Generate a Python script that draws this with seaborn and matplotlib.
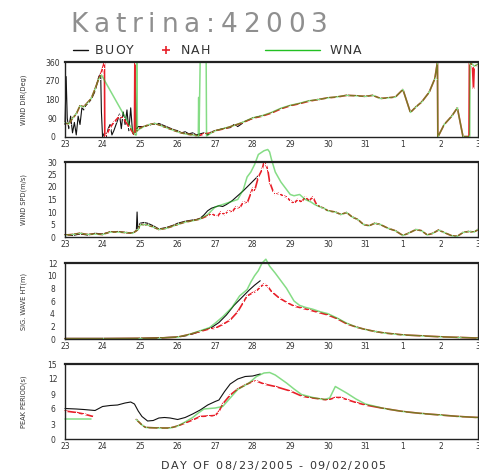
import numpy as np
import pandas as pd
import matplotlib
matplotlib.use("Agg")
import matplotlib.pyplot as plt
from matplotlib.lines import Line2D
import seaborn as sns

# (day, value); day 23 = 08/23, 32 = 09/01 ; None = gap
dir_buoy = [(23.00, 60), (23.03, 290), (23.06, 90), (23.10, 40), (23.15, 100), (23.20, 20), (23.25, 70),
            (23.30, 10), (23.35, 100), (23.40, 60), (23.45, 140), (23.50, 130), (23.55, 150), (23.60, 160),
            (23.70, 180), (23.80, 220), (23.90, 290), (23.95, 305), (23.97, 120), (24.00, 0), (24.05, 20),
            (24.10, 0), (24.15, 40), (24.20, 60), (24.25, 10), (24.30, 30), (24.40, 80), (24.45, 110),
            (24.50, 40), (24.55, 120), (24.60, 60), (24.65, 130), (24.70, 30), (24.75, 140), (24.80, 20),
            (24.85, 5), (24.87, 340), (24.89, 30), (24.95, 50), (25.10, 50), (25.30, 60), (25.50, 65),
            (25.70, 50), (25.90, 35), (26.00, 30), (26.10, 20), (26.20, 25), (26.30, 15), (26.40, 20),
            (26.50, 10), (26.60, 15), (26.70, 20), (26.80, 10), (26.90, 25), (27.00, 30), (27.20, 40),
            (27.40, 45), (27.50, 60), (27.60, 50), (27.80, 75), (28.00, 90), (28.20, 100)]
dir_nah = [(23.0, 70), (23.1, 60), (23.2, 90), (23.3, 110), (23.4, 150), (23.5, 145), (23.6, 165),
           (23.7, 185), (23.8, 230), (23.9, 280), (23.95, 300), (24.0, 330), (24.05, 360), (24.06, 0),
           (24.12, 15), (24.2, 45), (24.3, 70), (24.45, 100), (24.55, 90), (24.7, 50), (24.85, 10),
           (24.86, 360), (24.88, 20), (24.95, 40), (25.1, 50), (25.25, 60), (25.4, 65), (25.55, 55),
           (25.7, 45), (25.85, 35), (26.0, 25), (26.2, 15), (26.4, 10), (26.55, 5), (26.7, 15), (26.9, 20),
           (27.0, 30), (27.25, 40), (27.5, 55), (27.75, 70), (28.0, 90), (28.25, 100), (28.5, 115),
           (28.75, 135), (29.0, 150), (29.25, 160), (29.5, 172), (29.75, 180), (30.0, 188), (30.25, 192),
           (30.5, 200), (30.75, 198), (31.0, 195), (31.2, 200), (31.4, 185), (31.6, 188), (31.8, 192),
           (32.0, 228), (32.2, 118), (32.35, 145), (32.5, 168), (32.7, 215), (32.85, 280), (32.92, 360),
           (32.93, 0), (33.1, 60), (33.3, 100), (33.45, 140), (33.6, 2), (33.76, 2), (33.77, 360),
           (33.85, 345), (33.88, 230), (33.9, 340), (34.0, 345)]
dir_wna = [(23.0, 70), (23.1, 62), (23.2, 90), (23.3, 112), (23.4, 150), (23.5, 145), (23.6, 165),
           (23.7, 185), (23.8, 230), (23.9, 280), (23.97, 298), (24.87, 10), (24.90, 10), (24.91, 360),
           (24.93, 30), (25.0, 40), (25.1, 50), (25.25, 60), (25.4, 65), (25.55, 55), (25.7, 45),
           (25.85, 35), (26.0, 25), (26.2, 15), (26.4, 10), (26.55, 5), (26.56, 190), (26.57, 5),
           (26.6, 360), (26.76, 360), (26.77, 5), (26.9, 20), (27.0, 30), (27.25, 42), (27.5, 55),
           (27.75, 72), (28.0, 92), (28.25, 102), (28.5, 118), (28.75, 138), (29.0, 152), (29.25, 162),
           (29.5, 174), (29.75, 180), (30.0, 188), (30.25, 193), (30.5, 200), (30.75, 198), (31.0, 195),
           (31.2, 200), (31.4, 185), (31.6, 188), (31.8, 192), (32.0, 228), (32.2, 118), (32.35, 145),
           (32.5, 168), (32.7, 215), (32.85, 280), (32.92, 360), (32.93, 0), (33.1, 60), (33.3, 100),
           (33.45, 140), (33.6, 2), (33.78, 2), (33.79, 360), (33.9, 340), (34.0, 350)]

spd_buoy = [(23.0, 1.0), (23.2, 0.6), (23.4, 1.2), (23.6, 0.8), (23.8, 1.5), (24.0, 1.2), (24.2, 2.0),
            (24.4, 2.2), (24.6, 1.8), (24.8, 1.5), (24.9, 2.5), (24.92, 10.0), (24.94, 3.0), (25.0, 5.5),
            (25.1, 5.8), (25.2, 5.5), (25.35, 4.5), (25.5, 3.2), (25.7, 3.8), (25.9, 4.8), (26.0, 5.5),
            (26.2, 6.3), (26.4, 6.8), (26.5, 7.0), (26.6, 7.5), (26.7, 8.8), (26.8, 10.5), (26.9, 11.5),
            (27.0, 12.0), (27.1, 12.5), (27.2, 12.2), (27.3, 13.0), (27.45, 14.5), (27.6, 16.5),
            (27.75, 18.5), (27.85, 20.0), (27.95, 21.5), (28.05, 23.0), (28.15, 24.5)]
spd_nah = [(23.0, 0.8), (23.2, 1.0), (23.4, 1.5), (23.6, 1.0), (23.8, 1.2), (24.0, 1.0), (24.2, 2.0),
           (24.4, 2.0), (24.6, 1.8), (24.8, 1.5), (24.95, 3.0), (25.0, 4.8), (25.1, 5.0), (25.2, 4.8),
           (25.35, 4.0), (25.5, 3.0), (25.7, 3.5), (25.9, 4.5), (26.0, 5.0), (26.2, 6.0), (26.4, 6.5),
           (26.6, 7.2), (26.8, 8.5), (26.9, 9.5), (27.0, 8.5), (27.05, 8.0), (27.15, 10.0), (27.25, 9.0),
           (27.35, 10.5), (27.45, 10.0), (27.55, 12.0), (27.65, 11.5), (27.75, 14.0), (27.85, 13.5),
           (27.95, 17.5), (28.0, 19.5), (28.05, 18.5), (28.15, 24.0), (28.25, 27.0), (28.3, 30.0),
           (28.35, 29.0), (28.4, 27.0), (28.45, 22.0), (28.55, 18.0), (28.6, 17.0), (28.7, 17.5),
           (28.8, 16.5), (28.9, 16.0), (29.0, 14.5), (29.1, 13.5), (29.2, 15.0), (29.3, 14.0), (29.4, 16.0),
           (29.5, 14.5), (29.6, 16.0), (29.7, 13.0), (29.8, 12.0), (29.9, 11.5), (30.0, 10.5), (30.2, 10.0),
           (30.35, 9.0), (30.5, 9.8), (30.65, 8.0), (30.8, 7.0), (30.95, 5.0), (31.1, 4.5), (31.25, 5.5),
           (31.4, 5.0), (31.6, 3.5), (31.8, 2.5), (32.0, 0.6), (32.15, 1.5), (32.35, 3.0), (32.5, 2.5),
           (32.65, 0.8), (32.8, 1.5), (32.95, 2.8), (33.1, 1.8), (33.3, 0.5), (33.45, 0.3), (33.6, 1.8),
           (33.75, 2.2), (33.9, 2.0), (34.0, 3.0)]
spd_wna = [(23.0, 0.8), (23.2, 1.0), (23.4, 1.5), (23.6, 1.0), (23.8, 1.2), (24.0, 1.0), (24.2, 2.0),
           (24.4, 2.0), (24.6, 1.8), (24.8, 1.5), (24.95, 3.0), (25.0, 4.8), (25.1, 5.0), (25.2, 4.8),
           (25.35, 4.0), (25.5, 3.0), (25.7, 3.5), (25.9, 4.5), (26.0, 5.0), (26.2, 6.0), (26.4, 6.5),
           (26.6, 7.2), (26.8, 9.0), (27.0, 12.0), (27.2, 13.0), (27.4, 14.0), (27.6, 15.0), (27.75, 19.0),
           (27.85, 24.0), (27.95, 26.0), (28.05, 29.0), (28.15, 33.0), (28.3, 34.5), (28.4, 35.0),
           (28.45, 34.0), (28.5, 31.0), (28.6, 26.0), (28.75, 22.0), (28.9, 19.0), (29.0, 17.0),
           (29.1, 16.5), (29.25, 17.0), (29.4, 15.0), (29.55, 14.0), (29.65, 13.0), (29.8, 12.0),
           (29.9, 11.5), (30.0, 10.5), (30.2, 10.0), (30.35, 9.0), (30.5, 9.8), (30.65, 8.0), (30.8, 7.0),
           (30.95, 5.0), (31.1, 4.5), (31.25, 5.5), (31.4, 5.0), (31.6, 3.5), (31.8, 2.5), (32.0, 0.6),
           (32.15, 1.5), (32.35, 3.0), (32.5, 2.5), (32.65, 0.8), (32.8, 1.5), (32.95, 2.8), (33.1, 1.8),
           (33.3, 0.5), (33.45, 0.3), (33.6, 1.8), (33.75, 2.2), (33.9, 2.0), (34.0, 3.0)]

hs_buoy = [(23.0, 0.1), (24.0, 0.1), (25.0, 0.1), (25.5, 0.2), (26.0, 0.3), (26.3, 0.6), (26.6, 1.2),
           (26.9, 1.8), (27.1, 2.6), (27.3, 3.8), (27.5, 5.3), (27.7, 6.5), (27.9, 7.7), (28.05, 8.5),
           (28.2, 9.2)]
hs_nah = [(23.0, 0.05), (24.0, 0.05), (25.0, 0.1), (25.5, 0.15), (26.0, 0.3), (26.3, 0.7), (26.6, 1.2),
          (26.85, 1.6), (27.0, 1.7), (27.2, 2.3), (27.4, 3.0), (27.6, 4.3), (27.75, 5.8), (27.85, 6.8),
          (28.0, 7.3), (28.1, 7.6), (28.2, 8.2), (28.3, 8.7), (28.4, 8.3), (28.5, 7.5), (28.7, 6.5),
          (28.9, 5.8), (29.1, 5.2), (29.3, 4.9), (29.5, 4.6), (29.75, 4.2), (30.0, 3.8), (30.25, 3.2),
          (30.5, 2.4), (30.75, 1.9), (31.0, 1.5), (31.25, 1.2), (31.5, 0.95), (31.75, 0.8), (32.0, 0.65),
          (32.5, 0.5), (33.0, 0.35), (33.5, 0.25), (34.0, 0.15)]
hs_wna = [(23.0, 0.05), (24.0, 0.05), (25.0, 0.1), (25.5, 0.15), (26.0, 0.3), (26.3, 0.7), (26.6, 1.3),
          (26.85, 1.8), (27.0, 2.5), (27.2, 3.5), (27.45, 5.0), (27.65, 6.8), (27.85, 7.8), (27.95, 9.0),
          (28.05, 10.0), (28.15, 10.8), (28.25, 12.0), (28.35, 12.6), (28.45, 11.5), (28.6, 10.4),
          (28.75, 9.2), (28.9, 8.0), (29.0, 7.0), (29.1, 6.0), (29.25, 5.3), (29.4, 5.0), (29.6, 4.7),
          (29.8, 4.3), (30.0, 4.0), (30.25, 3.3), (30.5, 2.5), (30.75, 1.9), (31.0, 1.5), (31.25, 1.2),
          (31.5, 0.95), (31.75, 0.8), (32.0, 0.65), (32.5, 0.5), (33.0, 0.35), (33.5, 0.25), (34.0, 0.15)]

tp_buoy = [(23.0, 6.1), (23.3, 6.0), (23.5, 5.9), (23.8, 5.7), (24.0, 6.5), (24.2, 6.7), (24.4, 6.8),
           (24.6, 7.2), (24.75, 7.4), (24.85, 7.0), (24.95, 5.6), (25.05, 4.5), (25.2, 3.6), (25.35, 3.7),
           (25.5, 4.2), (25.65, 4.3), (25.8, 4.2), (26.0, 3.9), (26.2, 4.3), (26.4, 5.0), (26.6, 5.8),
           (26.8, 6.8), (27.0, 7.5), (27.1, 7.8), (27.25, 9.5), (27.4, 11.0), (27.6, 12.0), (27.8, 12.5),
           (28.0, 12.6), (28.2, 13.0)]
tp_nah = [(23.0, 5.6), (23.3, 5.3), (23.5, 5.0), (23.75, 4.5), (23.8, None), (24.9, 3.9), (25.05, 2.8),
          (25.15, 2.3), (25.5, 2.2), (25.8, 2.2), (26.0, 2.6), (26.2, 3.2), (26.4, 3.8), (26.6, 4.5),
          (26.8, 4.6), (27.0, 4.7), (27.1, 5.5), (27.2, 7.0), (27.4, 8.8), (27.6, 10.0), (27.8, 10.8),
          (28.0, 11.5), (28.1, 11.6), (28.3, 11.0), (28.6, 10.5), (29.0, 9.6), (29.3, 8.6), (29.5, 8.3),
          (29.8, 8.0), (30.0, 7.8), (30.2, 8.3), (30.35, 8.3), (30.5, 7.9), (30.75, 7.3), (31.0, 6.8),
          (31.5, 6.1), (32.0, 5.5), (32.5, 5.1), (33.0, 4.8), (33.5, 4.5), (34.0, 4.3)]
tp_wna = [(23.0, 4.1), (23.7, 4.1), (23.8, None), (24.9, 3.9), (25.05, 2.8), (25.15, 2.3), (25.5, 2.2),
          (25.8, 2.2), (26.0, 2.6), (26.2, 3.4), (26.4, 4.3), (26.55, 5.2), (26.7, 6.0), (27.0, 6.2),
          (27.2, 6.5), (27.4, 8.2), (27.6, 9.9), (27.9, 11.2), (28.1, 12.5), (28.3, 13.2), (28.45, 13.3),
          (28.6, 12.8), (28.9, 11.2), (29.1, 10.0), (29.3, 8.9), (29.6, 8.3), (29.9, 7.9), (30.05, 8.2),
          (30.2, 10.5), (30.5, 9.2), (30.75, 8.0), (31.0, 7.0), (31.5, 6.1), (32.0, 5.5), (32.5, 5.1),
          (33.0, 4.8), (33.5, 4.5), (34.0, 4.3)]

day_ticks = list(range(23, 35))
day_labels = ['23', '24', '25', '26', '27', '28', '29', '30', '31', '1', '2', '3']

panels = [
    ("WIND DIR(Deg)", dir_buoy, dir_nah, dir_wna, (0, 360), [0, 90, 180, 270, 360]),
    ("WIND SPD(m/s)", spd_buoy, spd_nah, spd_wna, (0, 30), [0, 5, 10, 15, 20, 25, 30]),
    ("SIG. WAVE HT(m)", hs_buoy, hs_nah, hs_wna, (0, 12), [0, 2, 4, 6, 8, 10, 12]),
    ("PEAK PERIOD(s)", tp_buoy, tp_nah, tp_wna, (0, 15), [0, 3, 6, 9, 12, 15]),
]

sns.set_style("white")
plt.rcParams['font.family'] = ['DejaVu Sans']

BLACK = '#111111'
RED = '#e8202a'
GREEN = '#22c022'
TXT = '#333333'
W, H = 479, 473


def draw(ax, pairs, color, **kw):
    df = pd.DataFrame(pairs, columns=['day', 'val'])
    df['val'] = pd.to_numeric(df['val'])
    df['seg'] = df['val'].isna().cumsum()
    df = df.dropna()
    sns.lineplot(data=df, x='day', y='val', units='seg', estimator=None, sort=False,
                 color=color, ax=ax, clip_on=False, **kw)


def spaced_text(fig, x_px, y_px, s, track, ha='left', **kw):
    # text with extra letter spacing (the original uses a wide plotter font)
    r = fig.canvas.get_renderer()
    size = kw.get('fontsize', 10)
    widths = []
    for ch in s:
        if ch == ' ':
            widths.append(0.32 * size * 100 / 72)
            continue
        t = fig.text(0, 0, ch, **kw)
        widths.append(t.get_window_extent(r).width)
        t.remove()
    total = sum(widths) + track * (len(s) - 1)
    x = x_px - total / 2 if ha == 'center' else x_px
    for ch, w in zip(s, widths):
        if ch != ' ':
            fig.text(x / W, 1 - y_px / H, ch, ha='left', va='center', **kw)
        x += w + track


fig = plt.figure(figsize=(4.79, 4.73), dpi=100)

# axes boxes in pixels: left, right, top, bottom
boxes = [(65, 478, 62, 137), (65, 478, 162, 237), (65, 478, 263, 339), (65, 478, 364, 439)]

axes = []
for (ylab, buoy, nah, wna, ylim, yticks), (l, r, t, b) in zip(panels, boxes):
    ax = fig.add_axes([l / W, 1 - b / H, (r - l) / W, (b - t) / H])
    draw(ax, buoy, BLACK, lw=0.8)
    draw(ax, nah, RED, lw=1.2, marker='+', markersize=3, markeredgewidth=0.7)
    draw(ax, wna, GREEN, lw=1.1, alpha=0.55)
    ax.set_xlim(23, 34)
    ax.set_ylim(*ylim)
    ax.set_xticks(day_ticks)
    ax.set_xticklabels(day_labels)
    ax.set_xticks(np.arange(23.5, 34, 1.0), minor=True)
    ax.set_yticks(yticks)
    ax.tick_params(axis='x', which='major', direction='in', length=5, width=1.5,
                   labelsize=5.5, pad=2, colors=BLACK, labelcolor=TXT)
    ax.tick_params(axis='x', which='minor', direction='in', length=2.5, width=1.0, colors=BLACK)
    ax.tick_params(axis='y', direction='in', length=3.5, width=1.0, labelsize=5.5, pad=9,
                   colors=BLACK, labelcolor=TXT)
    for lbl in ax.get_yticklabels():
        lbl.set_horizontalalignment('center')
    ax.set_xlabel('')
    ax.set_ylabel(ylab, fontsize=4.8, color=TXT)
    ax.yaxis.set_label_coords(-0.092, 0.5)
    for s in ax.spines.values():
        s.set_linewidth(1.0)
        s.set_color('#222222')
    ax.spines['top'].set_linewidth(1.6)
    axes.append(ax)

# x label, title, legend row
spaced_text(fig, 273, 466, 'DAY OF 08/23/2005 - 09/02/2005', 1.4, ha='center', fontsize=8, color=TXT)
spaced_text(fig, 70, 25, 'Katrina:42003', 5.8, fontsize=19, color='#8f8f8f')

ly = 50
fig.add_artist(Line2D([73 / W, 88 / W], [1 - ly / H] * 2, transform=fig.transFigure, color=BLACK, lw=1.0))
spaced_text(fig, 95, ly, 'BUOY', 1.2, fontsize=9, color=TXT)
fig.add_artist(Line2D([166 / W], [1 - ly / H], transform=fig.transFigure, color=RED, marker='+',
                      markersize=6, markeredgewidth=1.2, linestyle='None'))
spaced_text(fig, 181, ly, 'NAH', 0.8, fontsize=9, color=TXT)
fig.add_artist(Line2D([265 / W, 320 / W], [1 - ly / H] * 2, transform=fig.transFigure, color=GREEN, lw=1.0))
spaced_text(fig, 330, ly, 'WNA', 0.8, fontsize=9, color=TXT)

fig.savefig('out.png', dpi=100)
